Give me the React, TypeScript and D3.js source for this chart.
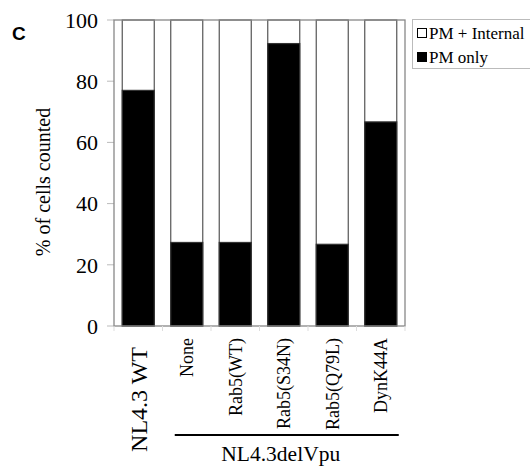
import React from "react";
import * as d3 from "d3";

// categories along x, and % of cells with "PM only" staining
const categories = ["NL4.3 WT", "None", "Rab5(WT)", "Rab5(S34N)", "Rab5(Q79L)", "DynK44A"];
const pmOnly = [77, 27.3, 27.3, 92.3, 26.7, 66.7];
const yTicks = [0, 20, 40, 60, 80, 100];
const legendItems = ["PM + Internal", "PM only"];
const groupLabel = "NL4.3delVpu";

export default function App() {
  const W = 530;
  const H = 466;
  const left = 114, right = 405, top = 20, bottom = 326;

  const x = d3.scaleBand<string>()
    .domain(categories)
    .range([left, right])
    .paddingInner(0.34)
    .paddingOuter(0.17);
  const y = d3.scaleLinear().domain([0, 100]).range([bottom, top]);
  const step = x.step();
  const serif = "'Liberation Serif', 'Times New Roman', serif";

  return (
    <svg width={W} height={H} style={{ position: "absolute", left: 0, top: 0, background: "#fff" }}>
      {/* panel letter */}
      <text x={12} y={40} fontFamily="'Liberation Sans', Arial, sans-serif" fontWeight="bold" fontSize={19}>C</text>

      {/* y axis ticks and labels */}
      {yTicks.map(t => (
        <g key={t}>
          <line x1={107} x2={left} y1={y(t)} y2={y(t)} stroke="#bbb" strokeWidth={1} />
          <text x={98} y={y(t)} dy="0.35em" textAnchor="end" fontFamily={serif} fontSize={22}>{t}</text>
        </g>
      ))}
      <text transform={`translate(50,182) rotate(-90)`} textAnchor="middle"
        fontFamily={serif} fontSize={20}>% of cells counted</text>

      {/* bars: white total, black PM only */}
      {categories.map((c, i) => (
        <g key={c}>
          <rect x={x(c)} y={y(100)} width={x.bandwidth()} height={y(0) - y(100)}
            fill="#fff" stroke="#555" strokeWidth={1.2} />
          <rect x={x(c)} y={y(pmOnly[i])} width={x.bandwidth()} height={y(0) - y(pmOnly[i])}
            fill="#000" stroke="#333" strokeWidth={1.2} />
        </g>
      ))}

      {/* plot frame */}
      <rect x={left} y={top} width={right - left} height={bottom - top} fill="none" stroke="#888" strokeWidth={1.3} />

      {/* x ticks between categories */}
      {d3.range(categories.length + 1).map(i => (
        <line key={i} x1={left + i * step} x2={left + i * step} y1={bottom} y2={bottom + 5} stroke="#ddd" />
      ))}

      {/* x labels */}
      {categories.map((c, i) => (
        <text key={c}
          transform={`translate(${(x(c) as number) + x.bandwidth() / 2},${i === 0 ? 347 : 338}) rotate(-90)`}
          textAnchor="end" dy="0.35em" fontFamily={serif} fontSize={i === 0 ? 24 : 18}>{c}</text>
      ))}

      {/* group bracket */}
      <line x1={(x(categories[1]) as number) + 4} x2={(x(categories[5]) as number) + x.bandwidth() + 2}
        y1={435} y2={435} stroke="#000" strokeWidth={2} />
      <text x={((x(categories[1]) as number) + (x(categories[5]) as number) + x.bandwidth()) / 2 - 3} y={461}
        textAnchor="middle" fontFamily={serif} fontSize={21.5}>{groupLabel}</text>

      {/* legend */}
      <rect x={412.5} y={19.5} width={125} height={49} fill="#fff" stroke="#bbb" />
      {legendItems.map((l, i) => (
        <g key={l}>
          <rect x={417.5} y={28.5 + i * 24} width={9} height={9} fill={i === 0 ? "#fff" : "#000"} stroke="#000" strokeWidth={1} />
          <text x={429} y={39 + i * 23.5} fontFamily={serif} fontSize={17}>{l}</text>
        </g>
      ))}
    </svg>
  );
}
